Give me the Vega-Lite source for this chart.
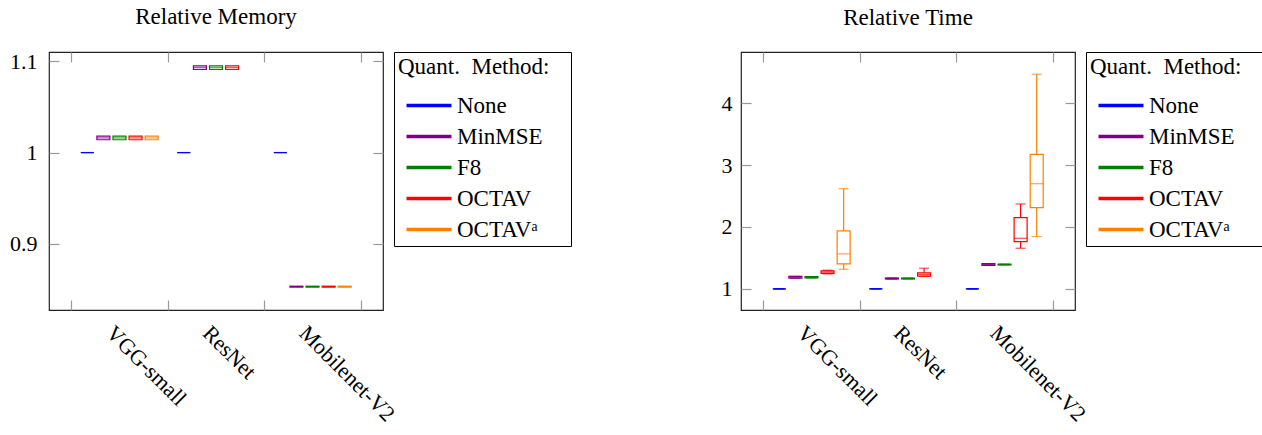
{
  "$schema": "https://vega.github.io/schema/vega-lite/v6.json",
  "padding": {"left": 8, "top": 5, "right": 0, "bottom": 0},
  "spacing": 147,
  "config": {
    "font": "Liberation Serif",
    "view": {"stroke": "#222", "strokeWidth": 1.2},
    "axis": {"domain": false, "grid": false, "labelFont": "Liberation Serif", "labelFontSize": 22, "labelColor": "#000", "tickColor": "#999", "tickWidth": 1.2, "tickSize": -10},
    "title": {"font": "Liberation Serif", "fontSize": 23, "fontWeight": "normal", "color": "#000", "anchor": "middle"}
  },
  "datasets": {
    "memory": [
      {"model": "VGG-small", "method": "None", "pos": 1, "lo": 1.0, "q1": 1.0, "med": 1.0, "q3": 1.0, "hi": 1.0},
      {"model": "VGG-small", "method": "MinMSE", "pos": 2, "lo": 1.014, "q1": 1.014, "med": 1.016, "q3": 1.018, "hi": 1.018},
      {"model": "VGG-small", "method": "F8", "pos": 3, "lo": 1.014, "q1": 1.014, "med": 1.016, "q3": 1.018, "hi": 1.018},
      {"model": "VGG-small", "method": "OCTAV", "pos": 4, "lo": 1.014, "q1": 1.014, "med": 1.016, "q3": 1.018, "hi": 1.018},
      {"model": "VGG-small", "method": "OCTAVᵃ", "pos": 5, "lo": 1.014, "q1": 1.014, "med": 1.016, "q3": 1.018, "hi": 1.018},
      {"model": "ResNet", "method": "None", "pos": 7, "lo": 1.0, "q1": 1.0, "med": 1.0, "q3": 1.0, "hi": 1.0},
      {"model": "ResNet", "method": "MinMSE", "pos": 8, "lo": 1.091, "q1": 1.091, "med": 1.093, "q3": 1.095, "hi": 1.095},
      {"model": "ResNet", "method": "F8", "pos": 9, "lo": 1.091, "q1": 1.091, "med": 1.093, "q3": 1.095, "hi": 1.095},
      {"model": "ResNet", "method": "OCTAV", "pos": 10, "lo": 1.091, "q1": 1.091, "med": 1.093, "q3": 1.095, "hi": 1.095},
      {"model": "Mobilenet-V2", "method": "None", "pos": 13, "lo": 1.0, "q1": 1.0, "med": 1.0, "q3": 1.0, "hi": 1.0},
      {"model": "Mobilenet-V2", "method": "MinMSE", "pos": 14, "lo": 0.8525, "q1": 0.8525, "med": 0.853, "q3": 0.8535, "hi": 0.8535},
      {"model": "Mobilenet-V2", "method": "F8", "pos": 15, "lo": 0.8525, "q1": 0.8525, "med": 0.853, "q3": 0.8535, "hi": 0.8535},
      {"model": "Mobilenet-V2", "method": "OCTAV", "pos": 16, "lo": 0.8525, "q1": 0.8525, "med": 0.853, "q3": 0.8535, "hi": 0.8535},
      {"model": "Mobilenet-V2", "method": "OCTAVᵃ", "pos": 17, "lo": 0.8525, "q1": 0.8525, "med": 0.853, "q3": 0.8535, "hi": 0.8535}
    ],
    "time": [
      {"model": "VGG-small", "method": "None", "pos": 1, "lo": 1.0, "q1": 1.0, "med": 1.0, "q3": 1.0, "hi": 1.0},
      {"model": "VGG-small", "method": "MinMSE", "pos": 2, "lo": 1.173, "q1": 1.173, "med": 1.187, "q3": 1.2, "hi": 1.2},
      {"model": "VGG-small", "method": "F8", "pos": 3, "lo": 1.176, "q1": 1.176, "med": 1.187, "q3": 1.198, "hi": 1.198},
      {"model": "VGG-small", "method": "OCTAV", "pos": 4, "lo": 1.24, "q1": 1.25, "med": 1.27, "q3": 1.29, "hi": 1.3},
      {"model": "VGG-small", "method": "OCTAVᵃ", "pos": 5, "lo": 1.316, "q1": 1.403, "med": 1.565, "q3": 1.935, "hi": 2.618},
      {"model": "ResNet", "method": "None", "pos": 7, "lo": 1.0, "q1": 1.0, "med": 1.0, "q3": 1.0, "hi": 1.0},
      {"model": "ResNet", "method": "MinMSE", "pos": 8, "lo": 1.158, "q1": 1.158, "med": 1.166, "q3": 1.174, "hi": 1.174},
      {"model": "ResNet", "method": "F8", "pos": 9, "lo": 1.159, "q1": 1.159, "med": 1.166, "q3": 1.173, "hi": 1.173},
      {"model": "ResNet", "method": "OCTAV", "pos": 10, "lo": 1.2, "q1": 1.205, "med": 1.232, "q3": 1.258, "hi": 1.332},
      {"model": "Mobilenet-V2", "method": "None", "pos": 13, "lo": 1.0, "q1": 1.0, "med": 1.0, "q3": 1.0, "hi": 1.0},
      {"model": "Mobilenet-V2", "method": "MinMSE", "pos": 14, "lo": 1.378, "q1": 1.378, "med": 1.392, "q3": 1.405, "hi": 1.405},
      {"model": "Mobilenet-V2", "method": "F8", "pos": 15, "lo": 1.386, "q1": 1.386, "med": 1.392, "q3": 1.398, "hi": 1.398},
      {"model": "Mobilenet-V2", "method": "OCTAV", "pos": 16, "lo": 1.655, "q1": 1.763, "med": 1.816, "q3": 2.15, "hi": 2.371},
      {"model": "Mobilenet-V2", "method": "OCTAVᵃ", "pos": 17, "lo": 1.844, "q1": 2.311, "med": 2.698, "q3": 3.171, "hi": 4.468}
    ]
  },
  "resolve": {"legend": {"color": "independent"}, "scale": {"color": "independent"}},
  "hconcat": [
    {
      "width": 334, "height": 258,
      "title": {"text": "Relative Memory", "offset": 21.5},
      "data": {"name": "memory"},
      "resolve": {"axis": {"x": "independent", "y": "independent"}},
      "layer": [
        {
          "mark": {"type": "rule", "strokeWidth": 1.2},
          "encoding": {
            "x": {"field": "pos", "type": "quantitative", "scale": {"domain": [-1.07, 19.07], "nice": false, "zero": false},
              "axis": {"orient": "bottom", "title": null, "values": [0, 3, 6, 9, 12, 15, 18],
                "labelExpr": "datum.value === 3 ? 'VGG-small' : datum.value === 9 ? 'ResNet' : datum.value === 15 ? 'Mobilenet-V2' : ''",
                "tickOpacity": {"condition": {"test": "datum.value % 6 === 0", "value": 1}, "value": 0},
                "labelAngle": 45, "labelAlign": "left", "labelBaseline": "top", "labelPadding": 22, "labelOffset": -3,
                "labelOverlap": false, "labelFlush": false, "labelBound": false}},
            "y": {"field": "lo", "type": "quantitative", "scale": {"domain": [0.8274, 1.1102], "nice": false, "zero": false},
              "axis": {"orient": "left", "title": null, "values": [0.9, 1, 1.1], "format": "~g", "labelPadding": 22}},
            "y2": {"field": "hi"},
            "color": {"field": "method", "type": "nominal",
              "scale": {"domain": ["None", "MinMSE", "F8", "OCTAV", "OCTAVᵃ"], "range": ["#0000ff", "#800080", "#008000", "#ff0000", "#ff8000"]},
              "legend": {
                "title": "Quant.\u00a0\u00a0Method:\u2800",
                "orient": "right", "offset": 10, "strokeColor": "#000", "fillColor": "#fff", "padding": 4,
                "symbolType": "M-1,0H4", "symbolSize": 324, "symbolStrokeWidth": 3.5, "symbolOffset": 6, "symbolFillColor": "transparent",
                "labelOffset": 30, "rowPadding": 7, "titlePadding": 15, "titleLimit": 300, "labelLimit": 300,
                "titleFont": "Liberation Serif", "titleFontSize": 23, "titleFontWeight": "normal", "titleColor": "#000",
                "labelFont": "Liberation Serif", "labelFontSize": 23, "labelColor": "#000"}
            }
          }
        },
        {
          "mark": {"type": "bar", "fill": "#fff", "strokeWidth": 1.2, "size": 13},
          "encoding": {
            "x": {"field": "pos", "type": "quantitative", "axis": null},
            "y": {"field": "q1", "type": "quantitative", "axis": null},
            "y2": {"field": "q3"},
            "stroke": {"field": "method", "type": "nominal", "legend": null,
              "scale": {"domain": ["None", "MinMSE", "F8", "OCTAV", "OCTAVᵃ"], "range": ["#0000ff", "#800080", "#008000", "#ff0000", "#ff8000"]}}
          }
        },
        {
          "mark": {"type": "tick", "orient": "horizontal", "size": 13, "thickness": 1.2},
          "encoding": {
            "x": {"field": "pos", "type": "quantitative", "axis": null},
            "y": {"field": "med", "type": "quantitative", "axis": null},
            "fill": {"field": "method", "type": "nominal", "legend": null,
              "scale": {"domain": ["None", "MinMSE", "F8", "OCTAV", "OCTAVᵃ"], "range": ["#0000ff", "#800080", "#008000", "#ff0000", "#ff8000"]}}
          }
        },
        {
          "mark": {"type": "rule", "opacity": 0},
          "encoding": {
            "x": {"field": "pos", "type": "quantitative", "axis": {"orient": "top", "title": null, "labels": false, "values": [0, 6, 12, 18]}},
            "y": {"field": "med", "type": "quantitative", "axis": {"orient": "right", "title": null, "labels": false, "values": [0.9, 1, 1.1]}}
          }
        }
      ]
    },
    {
      "width": 334, "height": 258,
      "title": {"text": "Relative Time", "offset": 21.5},
      "data": {"name": "time"},
      "resolve": {"axis": {"x": "independent", "y": "independent"}},
      "layer": [
        {
          "mark": {"type": "rule", "strokeWidth": 1.2},
          "encoding": {
            "x": {"field": "pos", "type": "quantitative", "scale": {"domain": [-1.07, 19.07], "nice": false, "zero": false},
              "axis": {"orient": "bottom", "title": null, "values": [0, 3, 6, 9, 12, 15, 18],
                "labelExpr": "datum.value === 3 ? 'VGG-small' : datum.value === 9 ? 'ResNet' : datum.value === 15 ? 'Mobilenet-V2' : ''",
                "tickOpacity": {"condition": {"test": "datum.value % 6 === 0", "value": 1}, "value": 0},
                "labelAngle": 45, "labelAlign": "left", "labelBaseline": "top", "labelPadding": 22, "labelOffset": -4,
                "labelOverlap": false, "labelFlush": false, "labelBound": false}},
            "y": {"field": "lo", "type": "quantitative", "scale": {"domain": [0.657, 4.827], "nice": false, "zero": false},
              "axis": {"orient": "left", "title": null, "values": [1, 2, 3, 4], "labelPadding": 19}},
            "y2": {"field": "hi"},
            "color": {"field": "method", "type": "nominal",
              "scale": {"domain": ["None", "MinMSE", "F8", "OCTAV", "OCTAVᵃ"], "range": ["#0000ff", "#800080", "#008000", "#ff0000", "#ff8000"]},
              "legend": {
                "title": "Quant.\u00a0\u00a0Method:\u2800",
                "orient": "right", "offset": 10, "strokeColor": "#000", "fillColor": "#fff", "padding": 4,
                "symbolType": "M-1,0H4", "symbolSize": 324, "symbolStrokeWidth": 3.5, "symbolOffset": 6, "symbolFillColor": "transparent",
                "labelOffset": 30, "rowPadding": 7, "titlePadding": 15, "titleLimit": 300, "labelLimit": 300,
                "titleFont": "Liberation Serif", "titleFontSize": 23, "titleFontWeight": "normal", "titleColor": "#000",
                "labelFont": "Liberation Serif", "labelFontSize": 23, "labelColor": "#000"}
            }
          }
        },
        {
          "mark": {"type": "bar", "fill": "#fff", "strokeWidth": 1.2, "size": 13},
          "encoding": {
            "x": {"field": "pos", "type": "quantitative", "axis": null},
            "y": {"field": "q1", "type": "quantitative", "axis": null},
            "y2": {"field": "q3"},
            "stroke": {"field": "method", "type": "nominal", "legend": null,
              "scale": {"domain": ["None", "MinMSE", "F8", "OCTAV", "OCTAVᵃ"], "range": ["#0000ff", "#800080", "#008000", "#ff0000", "#ff8000"]}}
          }
        },
        {
          "mark": {"type": "tick", "orient": "horizontal", "size": 13, "thickness": 1.2},
          "encoding": {
            "x": {"field": "pos", "type": "quantitative", "axis": null},
            "y": {"field": "med", "type": "quantitative", "axis": null},
            "fill": {"field": "method", "type": "nominal", "legend": null,
              "scale": {"domain": ["None", "MinMSE", "F8", "OCTAV", "OCTAVᵃ"], "range": ["#0000ff", "#800080", "#008000", "#ff0000", "#ff8000"]}}
          }
        },
        {
          "mark": {"type": "tick", "orient": "horizontal", "size": 10, "thickness": 1.2},
          "encoding": {
            "x": {"field": "pos", "type": "quantitative", "axis": null},
            "y": {"field": "lo", "type": "quantitative", "axis": null},
            "fill": {"field": "method", "type": "nominal", "legend": null,
              "scale": {"domain": ["None", "MinMSE", "F8", "OCTAV", "OCTAVᵃ"], "range": ["#0000ff", "#800080", "#008000", "#ff0000", "#ff8000"]}}
          }
        },
        {
          "mark": {"type": "tick", "orient": "horizontal", "size": 10, "thickness": 1.2},
          "encoding": {
            "x": {"field": "pos", "type": "quantitative", "axis": null},
            "y": {"field": "hi", "type": "quantitative", "axis": null},
            "fill": {"field": "method", "type": "nominal", "legend": null,
              "scale": {"domain": ["None", "MinMSE", "F8", "OCTAV", "OCTAVᵃ"], "range": ["#0000ff", "#800080", "#008000", "#ff0000", "#ff8000"]}}
          }
        },
        {
          "mark": {"type": "rule", "opacity": 0},
          "encoding": {
            "x": {"field": "pos", "type": "quantitative", "axis": {"orient": "top", "title": null, "labels": false, "values": [0, 6, 12, 18]}},
            "y": {"field": "med", "type": "quantitative", "axis": {"orient": "right", "title": null, "labels": false, "values": [1, 2, 3, 4]}}
          }
        }
      ]
    }
  ]
}
